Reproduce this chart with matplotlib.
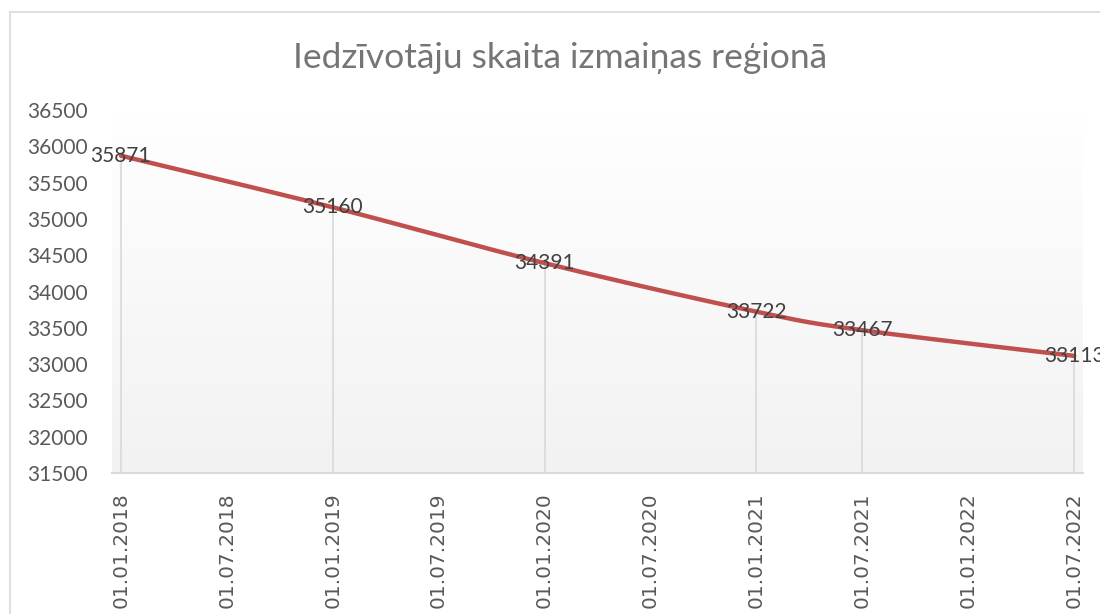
import numpy as np
import matplotlib
matplotlib.use("Agg")
import matplotlib.pyplot as plt
from matplotlib.lines import Line2D
from matplotlib.colors import LinearSegmentedColormap

# ---- data ----
dates = ["01.01.2018", "01.01.2019", "01.01.2020", "01.01.2021", "01.07.2021", "01.07.2022"]
values = [35871, 35160, 34391, 33722, 33467, 33113]
tick_labels = ["01.01.2018", "01.07.2018", "01.01.2019", "01.07.2019", "01.01.2020",
               "01.07.2020", "01.01.2021", "01.07.2021", "01.01.2022", "01.07.2022"]
y_ticks = [31500, 32000, 32500, 33000, 33500, 34000, 34500, 35000, 35500, 36000, 36500]
title = "Iedzīvotāju skaita izmaiņas reģionā"


def month_index(s):
    d, m, y = s.split(".")
    return (int(y) - 2018) * 12 + int(m) - 1


x = np.array([month_index(d) for d in dates], dtype=float)
y = np.array(values, dtype=float)
xt = [month_index(t) for t in tick_labels]


# Excel-like smoothed curve (Catmull-Rom style Bezier)
def smooth(xs, ys, n=40):
    P = np.column_stack([xs, ys])
    out = []
    for i in range(len(P) - 1):
        p0 = P[i - 1] if i > 0 else P[i]
        p1 = P[i]
        p2 = P[i + 1]
        p3 = P[i + 2] if i + 2 < len(P) else P[i + 1]
        c1 = p1 + (p2 - p0) / 6.0
        c2 = p2 - (p3 - p1) / 6.0
        t = np.linspace(0, 1, n)[:, None]
        seg = ((1 - t) ** 3) * p1 + 3 * ((1 - t) ** 2) * t * c1 + 3 * (1 - t) * t ** 2 * c2 + t ** 3 * p2
        out.append(seg if i == 0 else seg[1:])
    s = np.vstack(out)
    return s[:, 0], s[:, 1]


W, H = 1100, 614
fig = plt.figure(figsize=(W / 100, H / 100), dpi=100)
fig.patch.set_facecolor("white")

# chart border
fig.add_artist(Line2D([10 / W, 10 / W], [0, 1 - 12 / H], color="#d9d9d9", lw=1.2))
fig.add_artist(Line2D([10 / W, 1], [1 - 12 / H, 1 - 12 / H], color="#d9d9d9", lw=1.2))

ax = fig.add_axes([112 / W, 1 - 473 / H, (1083 - 112) / W, (473 - 110) / H])
ax.set_xlim(-0.5, 54.5)
ax.set_ylim(31500, 36500)

# gradient background
grad = np.linspace(0, 1, 256)[:, None]
cmap = LinearSegmentedColormap.from_list("g", ["#f2f2f2", "#ffffff"])
ax.imshow(grad, extent=[0, 1, 0, 1], transform=ax.transAxes, aspect="auto",
          cmap=cmap, origin="lower", zorder=0, vmin=0, vmax=1)

for s in ["top", "right", "left"]:
    ax.spines[s].set_visible(False)
ax.spines["bottom"].set_color("#d9d9d9")
ax.spines["bottom"].set_linewidth(1.5)

# drop lines
ax.vlines(x, 31500, y, color="#d9d9d9", lw=1.2, zorder=1)

sx, sy = smooth(x, y)
ax.plot(sx, sy, color="#c0504d", lw=3.2, solid_capstyle="round", zorder=3)

for xi, yi in zip(x, y):
    ax.text(xi, yi, f"{int(yi)}", ha="center", va="center", fontsize=15,
            family="Lato", color="#404040", zorder=4, clip_on=False)

ax.set_yticks(y_ticks)
ax.set_yticklabels([str(v) for v in y_ticks], family="Lato", fontsize=15, color="#595959")
for lab in ax.get_yticklabels():
    lab.set_horizontalalignment("left")
ax.tick_params(axis="y", length=0, pad=61)

ax.set_xticks(xt)
ax.set_xticklabels(tick_labels, rotation=90, family="DejaVu Sans", fontsize=14.5, color="#595959")
ax.tick_params(axis="x", length=0, pad=14)

fig.text(560 / W, 1 - 58 / H, title, ha="center", va="center", fontsize=25.5,
         family="Lato", color="#757575")

fig.savefig("out.png", dpi=100)
